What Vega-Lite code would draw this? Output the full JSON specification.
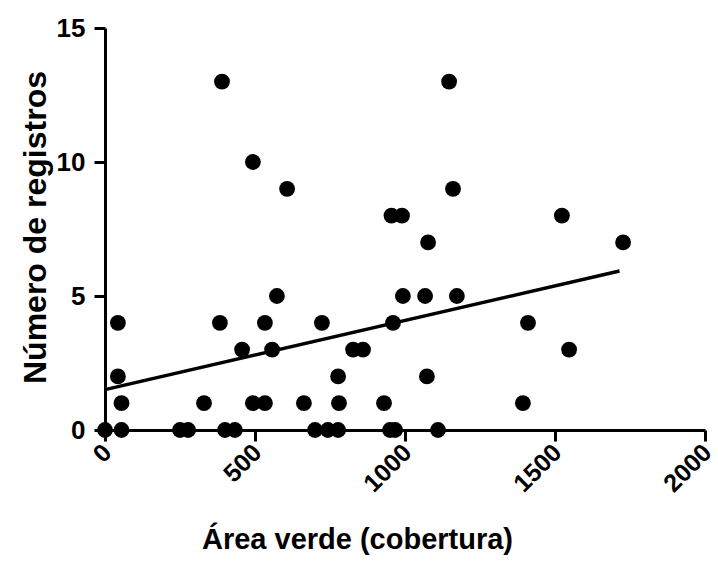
{
  "$schema": "https://vega.github.io/schema/vega-lite/v6.json",
  "width": 600,
  "height": 402,
  "autosize": "none",
  "padding": {"left": 105, "top": 28, "right": 13, "bottom": 132},
  "background": "white",
  "config": {
    "view": {"stroke": null},
    "font": "Liberation Sans",
    "axis": {
      "domainColor": "black",
      "domainWidth": 3,
      "tickColor": "black",
      "tickWidth": 3,
      "tickSize": 11,
      "grid": false,
      "labelFont": "Liberation Sans",
      "labelFontWeight": "bold",
      "labelFontSize": 26,
      "labelColor": "black",
      "titleFont": "Liberation Sans",
      "titleFontWeight": "bold",
      "titleColor": "black"
    }
  },
  "data": {
    "values": [
      {"area": 0, "registros": 0}, {"area": 55, "registros": 0}, {"area": 250, "registros": 0}, {"area": 277, "registros": 0},
      {"area": 400, "registros": 0}, {"area": 433, "registros": 0}, {"area": 700, "registros": 0}, {"area": 743, "registros": 0},
      {"area": 777, "registros": 0}, {"area": 950, "registros": 0}, {"area": 967, "registros": 0}, {"area": 1110, "registros": 0},
      {"area": 55, "registros": 1}, {"area": 330, "registros": 1}, {"area": 493, "registros": 1}, {"area": 533, "registros": 1},
      {"area": 663, "registros": 1}, {"area": 780, "registros": 1}, {"area": 930, "registros": 1}, {"area": 1393, "registros": 1},
      {"area": 43, "registros": 2}, {"area": 777, "registros": 2}, {"area": 1073, "registros": 2},
      {"area": 457, "registros": 3}, {"area": 557, "registros": 3}, {"area": 827, "registros": 3}, {"area": 860, "registros": 3}, {"area": 1547, "registros": 3},
      {"area": 43, "registros": 4}, {"area": 383, "registros": 4}, {"area": 533, "registros": 4}, {"area": 723, "registros": 4}, {"area": 960, "registros": 4}, {"area": 1410, "registros": 4},
      {"area": 573, "registros": 5}, {"area": 993, "registros": 5}, {"area": 1067, "registros": 5}, {"area": 1173, "registros": 5},
      {"area": 1077, "registros": 7}, {"area": 1727, "registros": 7},
      {"area": 955, "registros": 8}, {"area": 990, "registros": 8}, {"area": 1523, "registros": 8},
      {"area": 607, "registros": 9}, {"area": 1160, "registros": 9},
      {"area": 493, "registros": 10},
      {"area": 390, "registros": 13}, {"area": 1147, "registros": 13}
    ]
  },
  "encoding": {
    "x": {
      "field": "area", "type": "quantitative",
      "scale": {"domain": [0, 2000], "nice": false, "zero": false},
      "axis": {
        "values": [0, 500, 1000, 1500, 2000], "format": "d",
        "labelAngle": -45, "labelAlign": "right", "labelBaseline": "middle",
        "labelPadding": 7, "labelOffset": 2, "labelFontSize": 25,
        "title": "Área verde (cobertura)", "titleFontSize": 29,
        "titleX": 252, "titleY": 118, "titleAlign": "center", "titleBaseline": "alphabetic"
      }
    },
    "y": {
      "field": "registros", "type": "quantitative",
      "scale": {"domain": [0, 15], "nice": false},
      "axis": {
        "values": [0, 5, 10, 15], "format": "d",
        "labelPadding": 9,
        "title": "Número de registros", "titleFontSize": 32,
        "titleAngle": -90, "titleX": -60, "titleY": 199, "titleAlign": "center", "titleBaseline": "alphabetic"
      }
    }
  },
  "layer": [
    {
      "mark": {"type": "point", "shape": "circle", "filled": true, "color": "black", "opacity": 1, "size": 250}
    },
    {
      "transform": [{"regression": "registros", "on": "area", "extent": [0, 1715]}],
      "mark": {"type": "line", "color": "black", "strokeWidth": 3.5}
    }
  ]
}
